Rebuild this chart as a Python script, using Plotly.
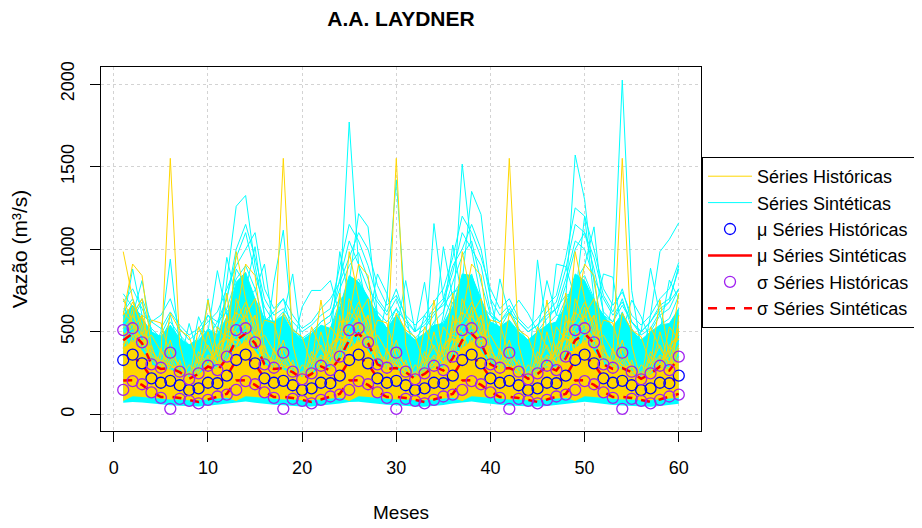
import plotly.graph_objects as go
import numpy as np

months = list(range(1, 61))

# monthly statistics of the historical record (calendar months 1..12)
hist_mean = [329, 361, 309, 218, 191, 203, 176, 147, 157, 191, 188, 234]
hist_std = [181, 160, 127, 85, 91, 170, 82, 65, 91, 103, 80, 115]
# monthly statistics of the synthetic series
syn_mean = [327, 348, 304, 220, 190, 193, 177, 150, 160, 190, 187, 232]
syn_std = [122, 141, 126, 83, 85, 87, 78, 65, 85, 100, 78, 108]

# historical years (12 months each), repeated over the 5-year horizon
hist_01 = [280, 300, 250, 200, 350, 1550, 420, 200, 180, 250, 200, 250]
hist_02 = [985, 700, 500, 300, 250, 200, 180, 150, 170, 200, 220, 400]
hist_03 = [600, 910, 840, 400, 300, 250, 200, 160, 200, 300, 250, 350]
hist_04 = [450, 500, 400, 571, 553, 350, 300, 200, 180, 250, 530, 450]
hist_05 = [300, 400, 600, 300, 250, 613, 510, 470, 300, 692, 350, 734]
hist_06 = [400, 650, 350, 250, 200, 300, 250, 200, 530, 400, 300, 300]
hist_07 = [200, 250, 300, 200, 150, 150, 130, 110, 120, 150, 200, 250]
hist_08 = [350, 450, 380, 250, 180, 200, 160, 120, 140, 180, 150, 600]
hist_09 = [250, 300, 250, 180, 400, 250, 200, 300, 250, 500, 300, 200]
hist_10 = [700, 550, 300, 200, 200, 150, 150, 130, 150, 200, 180, 220]
hist_11 = [150, 200, 180, 150, 130, 100, 100, 90, 100, 120, 130, 150]
hist_12 = [500, 350, 450, 350, 280, 450, 250, 180, 350, 300, 400, 500]
hist_13 = [180, 220, 200, 150, 120, 120, 110, 100, 90, 110, 120, 180]
hist_14 = [400, 600, 700, 250, 300, 200, 180, 250, 200, 250, 280, 300]
hist_15 = [520, 600, 480, 380, 320, 300, 260, 220, 250, 330, 300, 420]
hist_16 = [380, 420, 500, 300, 260, 350, 240, 200, 220, 280, 350, 380]
hist_17 = [620, 550, 420, 330, 280, 260, 230, 190, 230, 280, 260, 520]
hist_18 = [300, 480, 360, 270, 330, 280, 300, 180, 280, 360, 320, 300]
hist_19 = [450, 380, 320, 420, 240, 220, 200, 260, 200, 240, 420, 480]
hist_20 = [560, 680, 540, 300, 260, 400, 280, 210, 300, 420, 300, 560]
hist_21 = [260, 320, 280, 220, 200, 180, 330, 150, 170, 220, 240, 280]
hist_22 = [480, 520, 600, 360, 300, 240, 220, 200, 380, 300, 280, 400]
hist_23 = [340, 380, 300, 250, 220, 330, 200, 170, 190, 350, 220, 320]
hist_24 = [420, 560, 440, 480, 380, 300, 260, 240, 260, 300, 380, 460]
hist_low = [80, 110, 105, 100, 95, 90, 90, 85, 85, 90, 95, 100]
hist_dense = [400, 440, 380, 300, 270, 270, 240, 220, 240, 280, 270, 330]

# synthetic series (60 months each)
syn_01 = [450, 380, 300, 250, 200, 350, 220, 160, 180, 300, 250, 420,
          600, 520, 400, 300, 350, 280, 200, 180, 220, 260, 300, 700,
          1770, 900, 600, 420, 300, 350, 250, 200, 230, 300, 350, 500,
          550, 700, 450, 300, 250, 300, 220, 170, 200, 280, 260, 450,
          500, 600, 400, 320, 260, 450, 230, 180, 210, 300, 280, 400]
syn_02 = [350, 500, 420, 300, 250, 300, 200, 150, 170, 250, 300, 500,
          650, 700, 550, 400, 300, 350, 250, 200, 180, 300, 350, 450,
          500, 600, 450, 350, 280, 500, 260, 180, 200, 280, 320, 550,
          700, 600, 500, 320, 300, 280, 220, 160, 190, 260, 300, 480,
          600, 750, 500, 380, 700, 2024, 750, 400, 350, 500, 450, 600]
syn_03 = [300, 400, 350, 250, 200, 250, 180, 140, 160, 200, 250, 350,
          500, 600, 450, 300, 250, 300, 200, 170, 200, 250, 280, 400,
          450, 500, 400, 280, 220, 300, 200, 160, 180, 240, 260, 600,
          1515, 1000, 700, 450, 350, 400, 280, 200, 250, 300, 350, 500,
          450, 550, 420, 300, 250, 300, 220, 170, 200, 260, 280, 380]
syn_04 = [400, 350, 300, 280, 220, 200, 170, 130, 150, 200, 220, 300,
          550, 650, 500, 350, 280, 320, 220, 180, 210, 280, 300, 480,
          600, 550, 480, 320, 260, 400, 230, 190, 220, 300, 320, 450,
          500, 600, 450, 300, 250, 280, 210, 170, 200, 250, 270, 700,
          1570, 1300, 800, 500, 350, 400, 280, 200, 240, 300, 320, 450]
syn_05 = [500, 450, 380, 300, 280, 400, 250, 180, 200, 260, 300, 450,
          700, 750, 600, 400, 320, 350, 250, 200, 230, 300, 320, 500,
          600, 650, 500, 400, 700, 1420, 600, 350, 300, 350, 400, 500,
          650, 700, 550, 380, 300, 350, 260, 200, 220, 280, 300, 450,
          550, 650, 500, 350, 300, 380, 250, 190, 220, 300, 320, 420]
syn_06 = [550, 600, 500, 350, 300, 380, 250, 200, 230, 300, 350, 800,
          1260, 1325, 900, 600, 450, 500, 350, 250, 280, 350, 400, 600,
          700, 800, 600, 450, 350, 400, 300, 220, 250, 320, 380, 550,
          750, 850, 650, 450, 350, 400, 280, 220, 250, 320, 350, 550,
          650, 800, 600, 400, 330, 380, 270, 210, 240, 310, 350, 500]
syn_07 = [350, 300, 280, 220, 180, 220, 160, 130, 150, 200, 220, 300,
          450, 500, 400, 300, 250, 280, 200, 160, 180, 240, 260, 380,
          500, 550, 450, 350, 300, 350, 250, 200, 350, 1155, 700, 600,
          800, 1350, 1210, 700, 450, 400, 300, 230, 250, 300, 350, 500,
          600, 700, 550, 350, 300, 350, 260, 200, 230, 290, 320, 450]
syn_08 = [300, 350, 300, 250, 200, 250, 180, 140, 160, 220, 250, 350,
          500, 550, 450, 350, 800, 1115, 500, 300, 250, 300, 350, 450,
          550, 600, 480, 350, 280, 330, 240, 190, 210, 270, 300, 450,
          600, 650, 500, 350, 280, 330, 240, 190, 210, 270, 300, 500,
          700, 1200, 700, 400, 320, 350, 260, 200, 230, 280, 300, 420]
syn_09 = [400, 450, 380, 280, 230, 280, 200, 160, 180, 240, 270, 380,
          550, 600, 480, 350, 280, 330, 230, 180, 210, 270, 300, 450,
          600, 650, 500, 350, 290, 340, 240, 190, 220, 350, 600, 1025,
          700, 650, 500, 350, 290, 330, 240, 190, 220, 280, 310, 480,
          600, 650, 500, 380, 300, 350, 260, 300, 600, 985, 1060, 1160]
syn_10 = [450, 500, 400, 300, 250, 300, 220, 170, 190, 250, 280, 400,
          600, 750, 1015, 600, 400, 380, 280, 210, 240, 300, 330, 500,
          800, 1215, 1135, 600, 400, 420, 300, 220, 250, 320, 350, 500,
          650, 750, 600, 400, 320, 370, 260, 200, 230, 300, 330, 470,
          700, 800, 650, 420, 330, 380, 270, 210, 240, 310, 340, 480]
syn_11 = [500, 550, 450, 350, 500, 940, 400, 250, 220, 300, 500, 950,
          700, 800, 600, 400, 320, 380, 260, 200, 230, 300, 330, 480,
          650, 700, 550, 380, 310, 360, 250, 200, 230, 290, 320, 470,
          600, 700, 550, 380, 310, 360, 250, 200, 230, 290, 320, 470,
          800, 900, 1135, 600, 400, 420, 300, 220, 250, 320, 350, 500]
syn_12 = [550, 880, 600, 400, 300, 350, 250, 200, 300, 500, 870, 600,
          600, 650, 500, 380, 300, 350, 250, 190, 220, 300, 450, 985,
          700, 750, 580, 400, 320, 380, 260, 200, 230, 300, 330, 480,
          650, 700, 550, 380, 310, 360, 250, 200, 935, 500, 400, 550,
          650, 750, 580, 400, 320, 380, 260, 200, 230, 300, 330, 480]
syn_13 = [450, 600, 810, 500, 350, 350, 250, 200, 220, 280, 300, 450,
          650, 700, 750, 910, 500, 400, 280, 210, 240, 300, 330, 480,
          650, 700, 550, 400, 320, 370, 260, 200, 230, 300, 330, 470,
          650, 700, 550, 380, 310, 360, 250, 200, 230, 400, 910, 895,
          700, 750, 600, 400, 320, 380, 260, 200, 230, 300, 330, 480]
syn_14 = [730, 650, 500, 380, 300, 400, 300, 550, 350, 700, 400, 500,
          600, 650, 500, 380, 300, 600, 850, 400, 300, 320, 350, 480,
          650, 700, 550, 400, 320, 380, 260, 200, 230, 300, 330, 470,
          600, 650, 500, 380, 310, 360, 250, 200, 230, 290, 320, 470,
          650, 700, 550, 400, 320, 380, 400, 500, 885, 600, 450, 600]
syn_15 = [400, 450, 380, 300, 280, 350, 500, 300, 591, 450, 350, 400,
          500, 550, 450, 350, 300, 350, 400, 650, 750, 750, 810, 600,
          600, 650, 550, 850, 730, 500, 810, 500, 800, 400, 500, 450,
          500, 550, 450, 350, 300, 350, 250, 200, 230, 300, 330, 450,
          550, 600, 500, 380, 300, 350, 260, 200, 230, 300, 330, 450]
syn_16 = [350, 400, 330, 260, 220, 270, 190, 150, 170, 230, 260, 360,
          480, 560, 450, 330, 270, 320, 220, 170, 200, 260, 290, 430,
          520, 580, 460, 340, 280, 330, 230, 400, 600, 500, 1015, 700,
          650, 700, 550, 450, 820, 600, 692, 611, 500, 810, 600, 600,
          650, 700, 600, 850, 830, 500, 692, 591, 450, 500, 813, 700]
syn_17 = [620, 700, 560, 420, 480, 600, 380, 300, 420, 520, 480, 640,
          820, 900, 760, 560, 620, 700, 500, 420, 480, 560, 600, 760,
          900, 980, 820, 600, 520, 640, 480, 400, 460, 560, 620, 800,
          960, 1050, 800, 600, 520, 620, 500, 420, 480, 540, 600, 780,
          1000, 1100, 880, 620, 560, 700, 520, 430, 500, 600, 640, 760]
syn_18 = [520, 580, 680, 500, 420, 520, 450, 380, 350, 460, 560, 700,
          950, 1100, 850, 650, 560, 620, 520, 460, 420, 520, 560, 820,
          1050, 900, 760, 680, 600, 700, 540, 460, 520, 600, 680, 860,
          1100, 1000, 900, 620, 560, 640, 520, 440, 500, 580, 640, 820,
          1050, 1000, 820, 700, 600, 680, 560, 480, 520, 620, 680, 900]
syn_19 = [600, 520, 560, 440, 380, 460, 400, 330, 380, 480, 420, 560,
          700, 760, 640, 520, 460, 540, 420, 380, 440, 500, 520, 680,
          760, 820, 700, 560, 480, 600, 460, 380, 420, 520, 560, 720,
          820, 760, 660, 520, 460, 560, 440, 380, 440, 520, 560, 700,
          780, 840, 700, 560, 500, 620, 460, 400, 460, 540, 580, 720]
syn_20 = [480, 560, 500, 380, 440, 520, 360, 300, 340, 420, 400, 520,
          880, 780, 700, 480, 420, 500, 400, 340, 380, 460, 480, 620,
          680, 720, 640, 500, 440, 520, 400, 340, 380, 460, 500, 680,
          720, 680, 600, 480, 420, 500, 400, 340, 380, 440, 500, 660,
          700, 760, 640, 500, 440, 540, 420, 360, 400, 480, 520, 640]
syn_21 = [560, 640, 600, 560, 520, 620, 540, 480, 520, 600, 560, 620,
          700, 640, 600, 560, 520, 580, 500, 460, 500, 560, 600, 700,
          720, 760, 680, 620, 560, 640, 560, 500, 540, 620, 660, 740,
          760, 700, 660, 600, 560, 620, 560, 500, 540, 600, 640, 720,
          740, 780, 680, 600, 560, 660, 560, 500, 560, 640, 680, 760]
syn_22 = [380, 460, 420, 340, 300, 380, 300, 260, 300, 360, 340, 440,
          620, 660, 560, 420, 380, 460, 360, 300, 340, 400, 440, 560,
          600, 640, 540, 440, 380, 460, 360, 300, 340, 420, 460, 600,
          640, 600, 520, 420, 380, 440, 340, 300, 340, 400, 440, 580,
          620, 680, 560, 440, 400, 480, 360, 320, 360, 420, 460, 560]
syn_23 = [680, 760, 640, 520, 460, 560, 480, 420, 460, 600, 520, 700,
          1000, 1150, 950, 700, 600, 640, 560, 500, 540, 600, 640, 900,
          1150, 1050, 900, 700, 620, 760, 580, 500, 560, 640, 700, 900,
          1000, 1150, 1000, 700, 600, 660, 560, 500, 540, 620, 680, 880,
          1150, 1100, 950, 720, 620, 760, 560, 500, 560, 660, 700, 880]
syn_24 = [640, 600, 700, 560, 600, 700, 520, 450, 500, 560, 620, 760,
          900, 1000, 1100, 760, 640, 700, 600, 520, 560, 640, 700, 800,
          950, 1100, 1000, 780, 660, 720, 600, 540, 600, 680, 760, 950,
          1200, 1100, 950, 760, 640, 700, 580, 520, 580, 660, 720, 950,
          1250, 1200, 1000, 760, 660, 740, 600, 540, 600, 700, 760, 920]
syn_low = [70, 75, 72, 65, 60, 55, 52, 50, 48, 52, 58, 65,
           72, 78, 70, 62, 58, 55, 50, 48, 47, 52, 58, 66,
           74, 76, 70, 63, 58, 55, 50, 47, 46, 50, 57, 65,
           72, 78, 70, 62, 58, 54, 50, 47, 46, 50, 56, 64,
           72, 76, 70, 62, 57, 54, 50, 48, 46, 50, 56, 64]
syn_dense = [600, 660, 580, 500, 470, 540, 460, 420, 450, 510, 480, 590,
             800, 860, 700, 580, 560, 600, 500, 450, 490, 540, 520, 650,
             840, 800, 710, 600, 520, 600, 500, 450, 490, 540, 550, 650,
             850, 840, 700, 560, 530, 570, 500, 450, 500, 540, 560, 660,
             850, 810, 690, 600, 530, 610, 510, 450, 500, 540, 550, 640]

x_ticks = [0, 10, 20, 30, 40, 50, 60]
y_ticks = [0, 500, 1000, 1500, 2000]

XR = [-1.36, 62.36]
YR = [-101, 2103]
PLOT_W, PLOT_H = 600, 364

GOLD = '#FFD700'
CYAN = '#00FFFF'
BLUE = '#0000FF'
RED = '#FF0000'
PURPLE = '#A020F0'
FONT = 'Liberation Sans, Arial, sans-serif'

syn_series = [syn_01, syn_02, syn_03, syn_04, syn_05, syn_06, syn_07, syn_08,
              syn_09, syn_10, syn_11, syn_12, syn_13, syn_14, syn_15, syn_16,
              syn_17, syn_18, syn_19, syn_20, syn_21, syn_22, syn_23, syn_24]
hist_series = [hist_01, hist_02, hist_03, hist_04, hist_05, hist_06, hist_07,
               hist_08, hist_09, hist_10, hist_11, hist_12, hist_13, hist_14,
               hist_15, hist_16, hist_17, hist_18, hist_19, hist_20, hist_21,
               hist_22, hist_23, hist_24]

n_years = len(months) // 12


def tile(a):
    return list(np.tile(np.asarray(a, dtype=float), n_years))


def gapped(xs, ys, r=4.5):
    """R type='c': line segments with gaps where the points would be."""
    xpx = PLOT_W / (XR[1] - XR[0])
    ypx = PLOT_H / (YR[1] - YR[0])
    gx, gy = [], []
    for i in range(len(xs) - 1):
        dx = (xs[i + 1] - xs[i]) * xpx
        dy = (ys[i + 1] - ys[i]) * ypx
        L = (dx * dx + dy * dy) ** 0.5
        f = r / L
        if 2 * f < 1:
            gx += [xs[i] + f * (xs[i + 1] - xs[i]), xs[i + 1] - f * (xs[i + 1] - xs[i]), None]
            gy += [ys[i] + f * (ys[i + 1] - ys[i]), ys[i + 1] - f * (ys[i + 1] - ys[i]), None]
    return gx, gy


fig = go.Figure()

# synthetic series
fig.add_trace(go.Scatter(x=months, y=syn_low, mode='lines', line=dict(width=0, color=CYAN),
                         showlegend=False, hoverinfo='skip'))
fig.add_trace(go.Scatter(x=months, y=syn_dense, mode='lines', line=dict(width=1, color=CYAN),
                         fill='tonexty', fillcolor=CYAN, showlegend=False, hoverinfo='skip'))
for i, s in enumerate(syn_series):
    fig.add_trace(go.Scatter(x=months, y=s, mode='lines', line=dict(width=1, color=CYAN),
                             name='Séries Sintéticas', legendgroup='syn', legendrank=2,
                             showlegend=(i == 0)))

# historical series
fig.add_trace(go.Scatter(x=months, y=tile(hist_low), mode='lines', line=dict(width=0, color=GOLD),
                         showlegend=False, hoverinfo='skip'))
fig.add_trace(go.Scatter(x=months, y=tile(hist_dense), mode='lines', line=dict(width=1, color=GOLD),
                         fill='tonexty', fillcolor=GOLD, showlegend=False, hoverinfo='skip'))
for i, h in enumerate(hist_series):
    fig.add_trace(go.Scatter(x=months, y=tile(h), mode='lines', line=dict(width=1, color=GOLD),
                             name='Séries Históricas', legendgroup='hist', legendrank=1,
                             showlegend=(i == 0)))

mu_h = np.array(tile(hist_mean))
sd_h = np.array(tile(hist_std))
mu_s = np.array(tile(syn_mean))
sd_s = np.array(tile(syn_std))

# synthetic mean (solid red, gaps at the points) and mean +- std (dashed red)
gx, gy = gapped(months, list(mu_s))
fig.add_trace(go.Scatter(x=gx, y=gy, mode='lines', line=dict(width=2.5, color=RED),
                         name='μ Séries Sintéticas', legendrank=4, connectgaps=False))
fig.add_trace(go.Scatter(x=months, y=list(mu_s + sd_s), mode='lines',
                         line=dict(width=2.5, color=RED, dash='dash'),
                         name='σ Séries Sintéticas', legendgroup='sds', legendrank=6))
fig.add_trace(go.Scatter(x=months, y=list(mu_s - sd_s), mode='lines',
                         line=dict(width=2.5, color=RED, dash='dash'),
                         name='σ Séries Sintéticas', legendgroup='sds', showlegend=False))

# historical mean and mean +- std (circles)
fig.add_trace(go.Scatter(x=months, y=list(mu_h), mode='markers',
                         marker=dict(symbol='circle-open', size=11, color=BLUE, line=dict(width=1.3)),
                         name='μ Séries Históricas', legendrank=3))
fig.add_trace(go.Scatter(x=months, y=list(mu_h + sd_h), mode='markers',
                         marker=dict(symbol='circle-open', size=11, color=PURPLE, line=dict(width=1.3)),
                         name='σ Séries Históricas', legendgroup='sdh', legendrank=5))
fig.add_trace(go.Scatter(x=months, y=list(mu_h - sd_h), mode='markers',
                         marker=dict(symbol='circle-open', size=11, color=PURPLE, line=dict(width=1.3)),
                         name='σ Séries Históricas', legendgroup='sdh', showlegend=False))

axis_common = dict(showline=True, linecolor='black', linewidth=1, mirror=True,
                   ticks='outside', ticklen=10, tickcolor='black', tickwidth=1,
                   showgrid=True, gridcolor='#D3D3D3', griddash='dot', gridwidth=1,
                   zeroline=False, tickfont=dict(family=FONT, size=18, color='black'))

# the page body adds an 8 px offset, so margins are reduced by 8 px
fig.update_layout(
    width=922, height=528,
    margin=dict(l=93, r=229, t=59, b=105, autoexpand=False),
    paper_bgcolor='white', plot_bgcolor='white',
    font=dict(family=FONT, size=18, color='black'),
    title=dict(text='<b>A.A. LAYDNER</b>', x=0.5, xref='paper', xanchor='center',
               y=1 - 11 / 528, yref='container', yanchor='middle',
               font=dict(family=FONT, size=21, color='black')),
    xaxis=dict(range=XR, tickvals=x_ticks, ticklabelstandoff=10,
               title=dict(text='Meses', standoff=29, font=dict(size=19)), **axis_common),
    yaxis=dict(range=YR, tickvals=y_ticks, tickangle=-90, ticklabelstandoff=9,
               title=dict(text='Vazão (m³/s)', standoff=24, font=dict(size=21)), **axis_common),
    legend=dict(x=1.0017, xanchor='left', y=(431 - 157) / 364, yanchor='top',
                bordercolor='black', borderwidth=1, bgcolor='white',
                font=dict(family=FONT, size=18), itemwidth=44,
                tracegroupgap=0, traceorder='normal'),
    showlegend=True,
)

fig.write_html('out.html')
